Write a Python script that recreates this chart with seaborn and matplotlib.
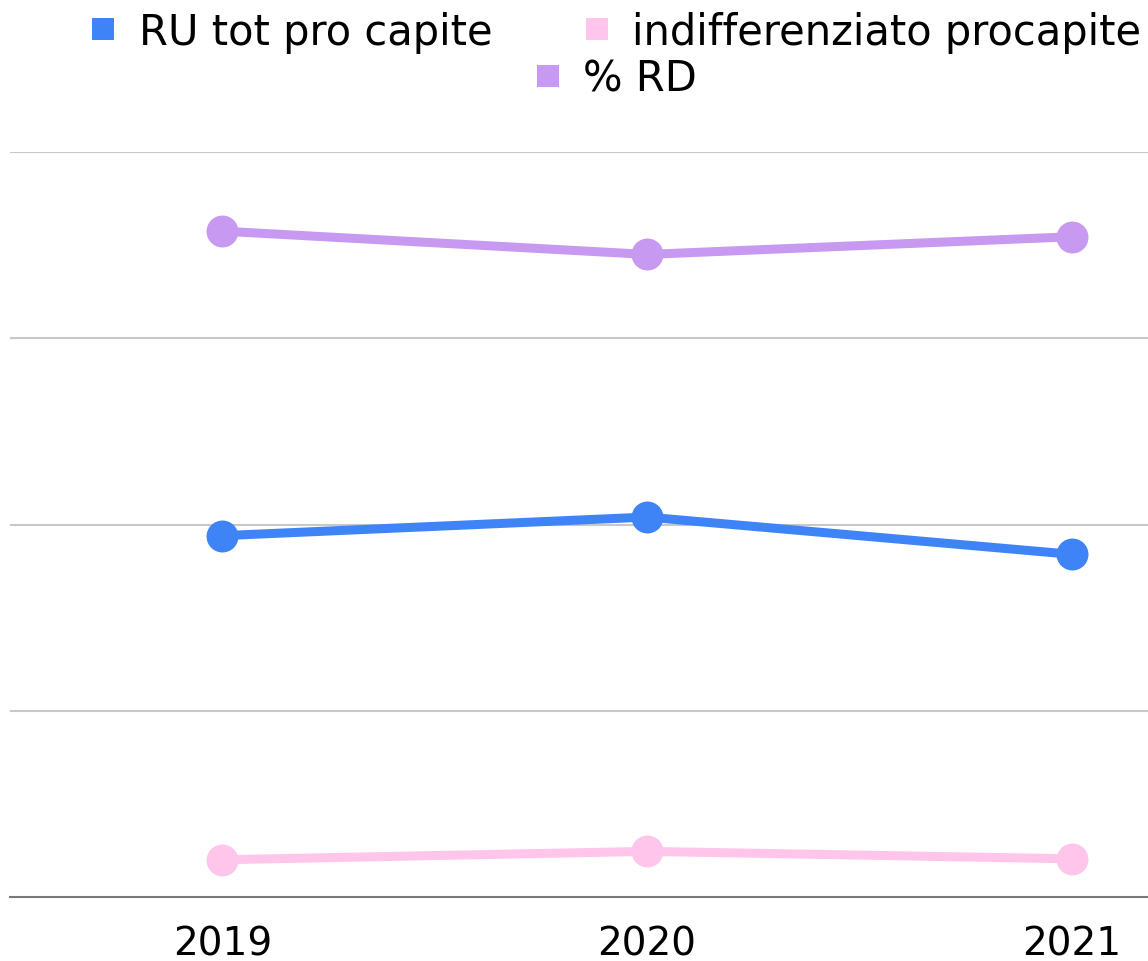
import numpy as np
import pandas as pd
import matplotlib
matplotlib.use("Agg")
import matplotlib.pyplot as plt
import seaborn as sns
from matplotlib.lines import Line2D

# values (no y labels in the original, arbitrary units)
years = ["2019", "2020", "2021"]
ru_tot = [388, 408, 368]
indiff = [40, 49, 41]
perc_rd = [715, 690, 709]

series_names = ["RU tot pro capite", "indifferenziato procapite", "% RD"]
colors = ["#3f84f7", "#ffc5ea", "#c899f1"]

df = pd.DataFrame({
    "anno": years * 3,
    "valore": ru_tot + indiff + perc_rd,
    "serie": [series_names[0]] * 3 + [series_names[1]] * 3 + [series_names[2]] * 3,
})

sns.set_style("white")
plt.rcParams["font.family"] = ["DejaVu Sans"]
plt.rcParams["text.color"] = "black"
plt.rcParams["xtick.color"] = "black"

fig = plt.figure(figsize=(11.48, 9.62), dpi=100)
ax = fig.add_axes([10 / 1148, 64 / 962, 1138 / 1148, 745 / 962])

sns.lineplot(data=df, x="anno", y="valore", hue="serie", hue_order=series_names,
             palette=colors, marker="o", markersize=23, linewidth=6.5,
             markeredgewidth=0, legend=False, ax=ax)

ax.set_ylim(0, 800)
ax.set_yticks([200, 400, 600, 800])
ax.set_xlim(-0.5, 2.18)
ax.grid(axis="y", color="#c8c8c8", linewidth=1.5)
ax.set_axisbelow(True)
for s in ["left", "right", "top"]:
    ax.spines[s].set_visible(False)
ax.spines["bottom"].set_color("#7a7a7a")
ax.spines["bottom"].set_linewidth(1.5)
ax.tick_params(axis="y", left=False, labelleft=False)
ax.tick_params(axis="x", bottom=False, labelsize=28, pad=16)
ax.set_xlabel("")
ax.set_ylabel("")


def square(c):
    return Line2D([], [], linestyle="none", marker="s", markersize=16,
                  markerfacecolor=c, markeredgewidth=0)


leg1 = fig.legend([square(colors[0]), square(colors[1])], series_names[:2],
                  loc="center", ncol=2, frameon=False, fontsize=30,
                  bbox_to_anchor=(0.533, 0.966), handletextpad=0.35,
                  columnspacing=2.0, handlelength=1.0)
leg2 = fig.legend([square(colors[2])], series_names[2:],
                  loc="center", ncol=1, frameon=False, fontsize=30,
                  bbox_to_anchor=(0.533, 0.917), handletextpad=0.35,
                  handlelength=1.0)

fig.savefig("out.png", dpi=100)
